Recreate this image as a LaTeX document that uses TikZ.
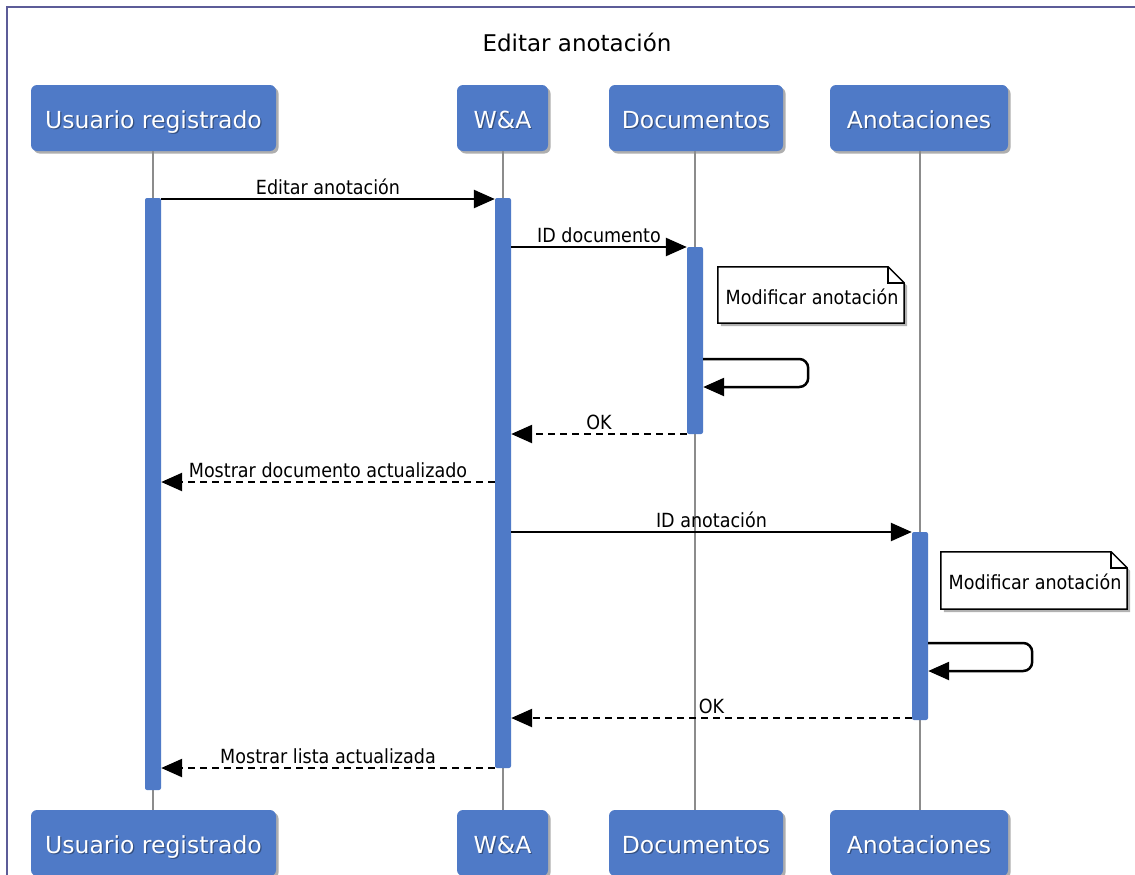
\documentclass[tikz,border=0pt]{standalone}
\usepackage{fontspec}
\setmainfont{DejaVu Sans}
\newfontfamily\msgfont[FakeStretch=0.9]{DejaVu Sans}
\usetikzlibrary{arrows.meta,shadows}

\definecolor{pblue}{RGB}{79,122,199}
\definecolor{framecol}{RGB}{92,92,152}
\definecolor{lifecol}{RGB}{140,140,140}

\tikzset{
  party/.style={rectangle, rounded corners=6pt, fill=pblue, draw=none,
    minimum height=66pt, inner sep=0pt,
    drop shadow={shadow xshift=2.5pt, shadow yshift=-2.5pt, opacity=0.45, fill=black!70}},
  plabel/.style={anchor=base, inner sep=0pt, text=white, font=\fontsize{23.5}{27}\selectfont},
  plshadow/.style={anchor=base, inner sep=0pt, text=black, opacity=0.35, font=\fontsize{23.5}{27}\selectfont},
  actbar/.style={rectangle, rounded corners=2pt, fill=pblue, draw=none,
    minimum width=16pt, inner sep=0pt},
  lifeline/.style={draw=lifecol, line width=2.3pt},
  msg/.style={line width=2.5pt, -{Triangle[length=21pt,width=18pt]}},
  reply/.style={msg, dash pattern=on 7pt off 5pt},
  mlabel/.style={anchor=base, yshift=5pt, inner sep=0pt, font=\msgfont\fontsize{19.5}{23}\selectfont},
  notebox/.style={rectangle, draw=none, inner sep=0pt},
  notetext/.style={anchor=base, inner sep=0pt, font=\msgfont\fontsize{19.5}{23}\selectfont},
  titletext/.style={anchor=base, inner sep=0pt, font=\fontsize{23}{27}\selectfont},
}

% participant box with a label set on a fixed baseline
\newcommand{\partbox}[5]{%
  \node[party, minimum width=#4] (#1) at (#2,#3) {};
  \node[plshadow, xshift=1.2pt, yshift=-1.2pt] (#1s) at (#2,#3+10) {#5};
  \node[plabel] (#1t) at (#2,#3+10) {#5};
}

% note with a folded corner
\newcommand{\notepaper}[1]{%
  \fill[black, opacity=0.3] ([xshift=3pt,yshift=-3pt]#1.north west) -- ([xshift=-13pt,yshift=-3pt]#1.north east)
     -- ([xshift=3pt,yshift=-19pt]#1.north east) -- ([xshift=3pt,yshift=-3pt]#1.south east)
     -- ([xshift=3pt,yshift=-3pt]#1.south west) -- cycle;
  \draw[fill=white, line width=1.5pt] (#1.north west) -- ([xshift=-16pt]#1.north east)
     -- ([yshift=-16pt]#1.north east) -- (#1.south east) -- (#1.south west) -- cycle;
  \draw[line width=1.5pt] ([xshift=-16pt]#1.north east) -- ([xshift=-16pt,yshift=-16pt]#1.north east)
     -- ([yshift=-16pt]#1.north east);
}

\begin{document}
\begin{tikzpicture}[x=1pt,y=-1pt]
\useasboundingbox (0,0) rectangle (1135,875);
\fill[white] (0,0) rectangle (1135,875);

% outer frame
\draw[framecol, line width=2pt] (7,7) rectangle (1160,900);

% title
\node[titletext] (title) at (577,52) {Editar anotación};

% participants, top and bottom
\partbox{pU}{153.5}{118}{245pt}{Usuario registrado}
\partbox{pW}{502.5}{118}{91pt}{W\&A}
\partbox{pD}{696}{118}{174pt}{Documentos}
\partbox{pA}{919}{118}{178pt}{Anotaciones}

\partbox{qU}{153.5}{843}{245pt}{Usuario registrado}
\partbox{qW}{502.5}{843}{91pt}{W\&A}
\partbox{qD}{696}{843}{174pt}{Documentos}
\partbox{qA}{919}{843}{178pt}{Anotaciones}

% lifelines
\coordinate (lU) at (153,0);
\coordinate (lW) at (503,0);
\coordinate (lD) at (695,0);
\coordinate (lA) at (920,0);
\draw[lifeline] (lU |- pU.south) -- (lU |- qU.north);
\draw[lifeline] (lW |- pW.south) -- (lW |- qW.north);
\draw[lifeline] (lD |- pD.south) -- (lD |- qD.north);
\draw[lifeline] (lA |- pA.south) -- (lA |- qA.north);

% activation bars
\node[actbar, minimum height=592pt] (aU) at (153,494) {};
\node[actbar, minimum height=570pt] (aW) at (503,483) {};
\node[actbar, minimum height=187pt] (aD) at (695,340.5) {};
\node[actbar, minimum height=188pt] (aA) at (920,626) {};

% message rows
\coordinate (y1) at (0,199);
\coordinate (y2) at (0,247);
\coordinate (s1a) at (0,359);
\coordinate (s1b) at (0,387);
\coordinate (y3) at (0,434);
\coordinate (y4) at (0,482);
\coordinate (y5) at (0,532);
\coordinate (s2a) at (0,643);
\coordinate (s2b) at (0,671);
\coordinate (y6) at (0,718);
\coordinate (y7) at (0,768);

\draw[msg] (aU.east |- y1) -- node[mlabel] (t1) {Editar anotación} (aW.west |- y1);
\draw[msg] (aW.east |- y2) -- node[mlabel] (t2) {ID documento} (aD.west |- y2);

% first note and self call
\node[notebox, minimum width=186pt, minimum height=56pt] (n1) at (811,295) {};
\notepaper{n1}
\node[notetext] (n1t) at (812,304) {Modificar anotación};
\draw[msg, rounded corners=9pt] (aD.east |- s1a) -- ++(105,0) -- ++(0,28) -- (aD.east |- s1b);

\draw[reply] (aD.west |- y3) -- node[mlabel] (t3) {OK} (aW.east |- y3);
\draw[reply] (aW.west |- y4) -- node[mlabel] (t4) {Mostrar documento actualizado} (aU.east |- y4);
\draw[msg] (aW.east |- y5) -- node[mlabel] (t5) {ID anotación} (aA.west |- y5);

% second note and self call
\node[notebox, minimum width=186pt, minimum height=57pt] (n2) at (1034,580.5) {};
\notepaper{n2}
\node[notetext] (n2t) at (1035,589) {Modificar anotación};
\draw[msg, rounded corners=9pt] (aA.east |- s2a) -- ++(104,0) -- ++(0,28) -- (aA.east |- s2b);

\draw[reply] (aA.west |- y6) -- node[mlabel] (t6) {OK} (aW.east |- y6);
\draw[reply] (aW.west |- y7) -- node[mlabel] (t7) {Mostrar lista actualizada} (aU.east |- y7);
\end{tikzpicture}
\end{document}
